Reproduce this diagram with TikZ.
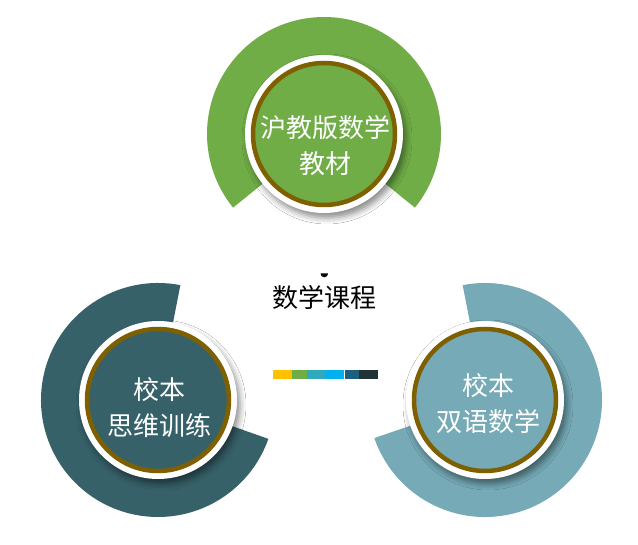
\documentclass[tikz,border=0pt]{standalone}
\usepackage{fontspec}
\newfontfamily\cjk{Noto Sans CJK SC}
\usetikzlibrary{shadows.blur,calc}
\definecolor{cgreen}{HTML}{70AD47}
\definecolor{cdark}{HTML}{376169}
\definecolor{clight}{HTML}{75AAB6}
\definecolor{cbrown}{HTML}{7F6000}
\definecolor{bA}{HTML}{FFC000}
\definecolor{bB}{HTML}{70AD47}
\definecolor{bC}{HTML}{2FA9BE}
\definecolor{bD}{HTML}{00B0F0}
\definecolor{bE}{HTML}{1B5E7E}
\definecolor{bF}{HTML}{1F3338}
\tikzset{
  whitedisc/.style={circle, fill=white, minimum size=158pt, inner sep=0pt,
    blur shadow={shadow xshift=3pt, shadow yshift=-5pt, shadow blur radius=6pt, shadow opacity=45}},
  innerdisc/.style={circle, draw=cbrown, line width=4.5pt, minimum size=142pt, inner sep=0pt},
  label/.style={font=\cjk\fontsize{26}{36}\selectfont, text=white, align=center},
  barseg/.style={inner sep=0pt, minimum height=9pt, anchor=west},
}
\newcommand{\ringsector}[5]{% center, color, a1, a2
  \fill[#2] ($(#1)+(#3:117)$) arc[start angle=#3, end angle=#4, radius=117pt]
    -- ($(#1)+(#4:70)$) arc[start angle=#4, end angle=#3, radius=70pt] -- cycle;}
\begin{document}
\begin{tikzpicture}[x=1pt,y=1pt]
\useasboundingbox[fill=white] (0,0) rectangle (638,-545);
\coordinate (ctop) at (324,-134);
\coordinate (cleft) at (158,-400);
\coordinate (cright) at (485,-400);
% rings
\ringsector{ctop}{cgreen}{-39}{219}{}
\ringsector{cleft}{cdark}{79}{340.6}{}
\ringsector{cright}{clight}{-161}{101}{}
% discs
\node[whitedisc] (wtop) at (ctop) {};
\node[whitedisc] (wleft) at (cleft) {};
\node[whitedisc] (wright) at (cright) {};
\node[innerdisc, fill=cgreen] (itop) at (ctop) {};
\node[innerdisc, fill=cdark] (ileft) at (cleft) {};
\node[innerdisc, fill=clight] (iright) at (cright) {};
% labels
\node[label] (ttop) at (325,-146) {沪教版数学\\教材};
\node[label] (tleft) at (159,-408) {校本\\思维训练};
\node[label] (tright) at (488,-404) {校本\\双语数学};
% center
\node[font=\cjk\fontsize{26}{30}\selectfont, text=black] (title) at (324,-298) {数学课程};
\fill[black] (320.5,-273.5) arc[start angle=180, end angle=360, x radius=3.8pt, y radius=3.8pt] -- cycle;
\node[barseg, fill=bA, minimum width=19pt] (s1) at (272.5,-375) {};
\node[barseg, fill=bB, minimum width=14.5pt] (s2) at (s1.east) {};
\node[barseg, fill=bC, minimum width=18.5pt] (s3) at (s2.east) {};
\node[barseg, fill=bD, minimum width=18.5pt] (s4) at (s3.east) {};
\node[barseg, fill=bE, minimum width=14pt] (s5) at (s4.east) {};
\node[barseg, fill=bF, minimum width=18.5pt] (s6) at (s5.east) {};
\end{tikzpicture}
\end{document}
